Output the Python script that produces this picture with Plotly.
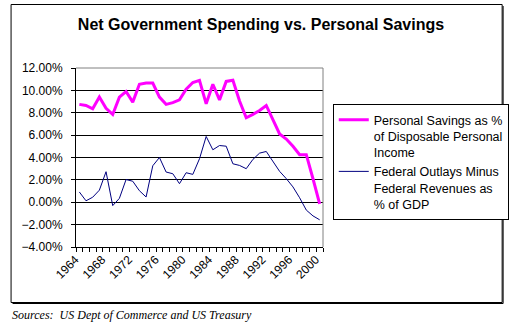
import plotly.graph_objects as go

# Annual series, percent
years = list(range(1964, 2001))
savings_pct = [8.75, 8.65, 8.35, 9.4, 8.4, 7.85, 9.4, 9.9, 8.95, 10.55,
               10.65, 10.65, 9.4, 8.75, 8.9, 9.15, 10.1, 10.7, 10.9, 8.8,
               10.55, 9.15, 10.8, 10.9, 9.05, 7.55, 7.85, 8.2, 8.65, 7.3,
               6.1, 5.65, 5.0, 4.25, 4.25, 2.1, -0.15]
deficit_pct = [0.92, 0.13, 0.45, 1.08, 2.73, -0.3, 0.35, 2.03, 1.88, 1.03,
               0.47, 3.26, 4.0, 2.7, 2.55, 1.66, 2.64, 2.49, 3.89, 5.88,
               4.69, 5.07, 5.01, 3.44, 3.29, 3.0, 3.83, 4.39, 4.54, 3.65,
               2.76, 2.11, 1.37, 0.4, -0.7, -1.22, -1.57]
label_years = years[::4]
savings_name = "Personal Savings as %<br>of Disposable Personal<br>Income"
deficit_name = "Federal Outlays Minus<br>Federal Revenues as<br>% of GDP"

W, H = 521, 329
L, R, T, B = 76, 329, 68, 247  # plot area edges in pixels


def fx(px):
    return (px - L) / (R - L)


def fy(py):
    return (B - py) / (B - T)


SANS = "Arial, Liberation Sans, sans-serif"

fig = go.Figure()
fig.add_trace(go.Scatter(x=years, y=savings_pct, mode="lines", name=savings_name,
                         line=dict(color="#FF00FF", width=3)))
fig.add_trace(go.Scatter(x=years, y=deficit_pct, mode="lines", name=deficit_name,
                         line=dict(color="#000080", width=1)))

shapes = [
    # plot-area frame (top and right, grey)
    dict(type="line", xref="paper", yref="paper", x0=0, x1=1, y0=1, y1=1,
         line=dict(color="#808080", width=1), layer="above"),
    dict(type="line", xref="paper", yref="paper", x0=1, x1=1, y0=0, y1=1,
         line=dict(color="#808080", width=1), layer="above"),
    # chart-area border with drop shadow
    dict(type="rect", xref="paper", yref="paper",
         x0=fx(9.5), x1=fx(512.5), y0=fy(302.5), y1=fy(4.5),
         line=dict(color="black", width=1), layer="below"),
    dict(type="line", xref="paper", yref="paper",
         x0=fx(513.5), x1=fx(513.5), y0=fy(303.5), y1=fy(6),
         line=dict(color="black", width=1)),
    dict(type="line", xref="paper", yref="paper",
         x0=fx(11), x1=fx(513.5), y0=fy(303.5), y1=fy(303.5),
         line=dict(color="black", width=1)),
]

fig.update_layout(
    width=W, height=H,
    margin=dict(l=L, r=W - R, t=T, b=H - B, pad=0),
    paper_bgcolor="white", plot_bgcolor="white",
    font=dict(family=SANS, size=12, color="black"),
    title=dict(text="<b>Net Government Spending vs. Personal Savings</b>",
               x=261 / W, xanchor="center", y=1 - 24.5 / H, yanchor="middle",
               xref="container", yref="container",
               font=dict(family=SANS, size=16, color="black")),
    showlegend=True,
    legend=dict(x=fx(339), y=fy(104), xanchor="left", yanchor="top",
                bgcolor="white", bordercolor="black", borderwidth=1,
                font=dict(family=SANS, size=12.5, color="black"),
                valign="top", itemwidth=30, tracegroupgap=4),
    xaxis=dict(range=[years[0] - 0.5, years[-1] + 0.5],
               tickmode="array", tickvals=label_years,
               ticktext=[str(y) for y in label_years],
               ticks="", tickangle=-45, ticklabelshift=-4,
               showgrid=False, zeroline=False,
               showline=True, linecolor="black", linewidth=1,
               tickfont=dict(family=SANS, size=12),
               minor=dict(ticks="outside", ticklen=4, tickcolor="black",
                          tickwidth=1, tick0=years[0] - 0.5, dtick=1,
                          showgrid=False)),
    yaxis=dict(range=[-4, 12], tickmode="linear", tick0=-4, dtick=2,
               tickformat=".2f", ticksuffix="%",
               ticks="outside", ticklen=4, tickcolor="black",
               ticklabelstandoff=6,
               showgrid=True, gridcolor="black", gridwidth=1,
               zeroline=False, showline=True, linecolor="black", linewidth=1,
               tickfont=dict(family=SANS, size=12)),
    shapes=shapes,
    annotations=[dict(text="Sources:\u00a0 US Dept of Commerce and US Treasury",
                      xref="paper", yref="paper", x=fx(8), y=fy(315),
                      xanchor="left", yanchor="middle", showarrow=False,
                      font=dict(family="Times New Roman, Liberation Serif, serif",
                                size=12, style="italic", color="black"))],
)

fig.write_html("out.html")
